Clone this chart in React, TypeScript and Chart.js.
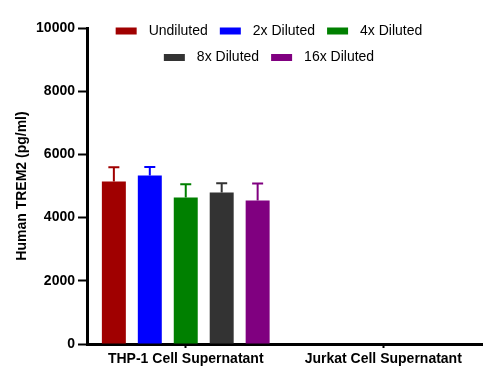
import React, { useEffect, useRef } from "react";
import { Chart, registerables } from "chart.js";

Chart.register(...registerables);

const categories = ["THP-1 Cell Supernatant", "Jurkat Cell Supernatant"];
const seriesLabels = ["Undiluted", "2x Diluted", "4x Diluted", "8x Diluted", "16x Diluted"];
const seriesColors = ["#A00000", "#0000FF", "#008000", "#333333", "#800080"];
const undiluted = [5140, null];
const diluted2x = [5335, null];
const diluted4x = [4635, null];
const diluted8x = [4795, null];
const diluted16x = [4540, null];
const errUndiluted = [455, null];
const errDiluted2x = [265, null];
const errDiluted4x = [420, null];
const errDiluted8x = [295, null];
const errDiluted16x = [540, null];
const yTicks = [0, 2000, 4000, 6000, 8000, 10000];

const seriesValues = [undiluted, diluted2x, diluted4x, diluted8x, diluted16x];
const seriesErrors = [errUndiluted, errDiluted2x, errDiluted4x, errDiluted8x, errDiluted16x];

const FONT = "'Liberation Sans', Arial, sans-serif";

const errorBarPlugin = {
  id: "errorBars",
  afterDatasetsDraw(chart: any) {
    const ctx = chart.ctx;
    const y = chart.scales.y;
    chart.data.datasets.forEach((ds: any, i: number) => {
      const meta = chart.getDatasetMeta(i);
      meta.data.forEach((el: any, j: number) => {
        const v = ds.data[j];
        const e = seriesErrors[i][j];
        if (v == null || e == null) return;
        const yTop = y.getPixelForValue(v);
        const yErr = y.getPixelForValue(v + e);
        ctx.save();
        ctx.strokeStyle = ds.backgroundColor;
        ctx.lineWidth = 2;
        ctx.beginPath();
        ctx.moveTo(el.x, yTop);
        ctx.lineTo(el.x, yErr);
        ctx.moveTo(el.x - 5.5, yErr);
        ctx.lineTo(el.x + 5.5, yErr);
        ctx.stroke();
        ctx.restore();
      });
    });
  },
};

const legendPlugin = {
  id: "innerLegend",
  afterDraw(chart: any) {
    const ctx = chart.ctx;
    const area = chart.chartArea;
    const rows = [[0, 1, 2], [3, 4]];
    const boxW = 21;
    const boxH = 7;
    const gapBoxText = 12;
    const gapItems = 12;
    ctx.save();
    ctx.font = `14px ${FONT}`;
    ctx.textBaseline = "middle";
    const cx = area.left + 182;
    rows.forEach((row, r) => {
      const widths = row.map((i) => boxW + gapBoxText + ctx.measureText(seriesLabels[i]).width);
      const total = widths.reduce((a, b) => a + b, 0) + gapItems * (row.length - 1);
      let x = cx - total / 2;
      const yc = area.top + 3 + r * 26.5;
      row.forEach((i, k) => {
        ctx.fillStyle = seriesColors[i];
        ctx.fillRect(x, yc - boxH / 2, boxW, boxH);
        ctx.fillStyle = "#000";
        ctx.fillText(seriesLabels[i], x + boxW + gapBoxText, yc);
        x += widths[k] + gapItems;
      });
    });
    ctx.restore();
  },
};

export default function App() {
  const ref = useRef<HTMLCanvasElement | null>(null);
  useEffect(() => {
    if (!ref.current) return;
    const chart = new Chart(ref.current, {
      type: "bar",
      data: {
        labels: categories,
        datasets: seriesLabels.map((label, i) => ({
          label,
          data: seriesValues[i],
          backgroundColor: seriesColors[i],
          borderWidth: 0,
          categoryPercentage: 0.91,
          barPercentage: 0.667,
        })),
      },
      options: {
        animation: false,
        responsive: true,
        maintainAspectRatio: false,
        layout: { padding: { top: 28, right: 9, left: 0, bottom: 0 } },
        plugins: {
          legend: { display: false },
          tooltip: { enabled: false },
        },
        scales: {
          x: {
            offset: true,
            border: { display: true, color: "#000", width: 3 },
            grid: {
              offset: false,
              drawOnChartArea: false,
              drawTicks: true,
              tickLength: 4,
              tickWidth: 2,
              color: "#000",
            },
            ticks: {
              color: "#000",
              padding: 3,
              font: { family: FONT, size: 14, weight: "bold" },
              maxRotation: 0,
            },
            afterFit(s: any) {
              s.height = 383 - 344;
            },
          },
          y: {
            min: 0,
            max: 10000,
            afterBuildTicks(s: any) {
              s.ticks = yTicks.map((v) => ({ value: v }));
            },
            border: { display: true, color: "#000", width: 3 },
            grid: {
              drawOnChartArea: false,
              drawTicks: true,
              tickLength: 9,
              tickWidth: 2,
              color: "#000",
            },
            ticks: {
              color: "#000",
              padding: 3,
              font: { family: FONT, size: 14, weight: "bold" },
              callback: (v: any) => String(v),
            },
            title: {
              display: true,
              text: "Human TREM2 (pg/ml)",
              color: "#000",
              font: { family: FONT, size: 14, weight: "bold" },
              padding: { top: 14, bottom: 0 },
            },
            afterFit(s: any) {
              s.width = 87;
            },
          },
        },
      },
      plugins: [errorBarPlugin, legendPlugin],
    });
    return () => chart.destroy();
  }, []);
  return (
    <div style={{ position: "fixed", left: 0, top: 0, width: 491, height: 383, background: "#fff" }}>
      <canvas ref={ref} />
    </div>
  );
}
